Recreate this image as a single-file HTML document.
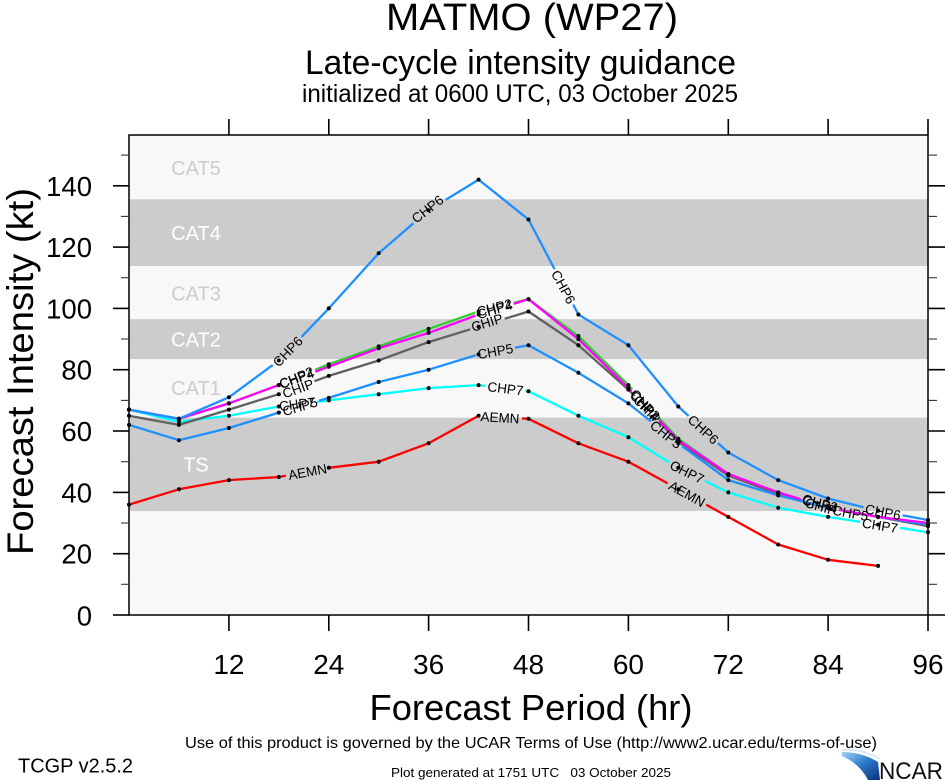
<!DOCTYPE html>
<html><head><meta charset="utf-8"><style>
html,body{margin:0;padding:0;background:#fff;}
svg{display:block;font-family:"Liberation Sans",Arial,sans-serif;}
.lbl{font-size:13.5px;fill:#000;}
</style></head><body>
<svg width="945" height="780" viewBox="0 0 945 780" xmlns="http://www.w3.org/2000/svg">
<defs>
<marker id="d" markerWidth="6" markerHeight="6" refX="3" refY="3" markerUnits="userSpaceOnUse"><circle cx="3" cy="3" r="2" fill="#000"/></marker>
<mask id="m6" maskUnits="userSpaceOnUse" x="0" y="0" width="945" height="780">
<rect width="945" height="780" fill="#fff"/>
<g fill="#000">
<rect x="-20" y="-6" width="40" height="12" transform="translate(287.7,351.5) rotate(-46)"/>
<rect x="-20" y="-6" width="40" height="12" transform="translate(427.5,209) rotate(-38)"/>
<rect x="-20" y="-6" width="40" height="12" transform="translate(563.5,287) rotate(62)"/>
<rect x="-20" y="-6" width="40" height="12" transform="translate(703.3,429.5) rotate(42.6)"/>
<rect x="-20" y="-6" width="40" height="12" transform="translate(883,512) rotate(11)"/>
</g></mask>
<mask id="m4" maskUnits="userSpaceOnUse" x="0" y="0" width="945" height="780">
<rect width="945" height="780" fill="#fff"/>
<g fill="#000">
<rect x="-20" y="-6" width="40" height="12" transform="translate(296.5,378.5) rotate(-20)"/>
<rect x="-20" y="-6" width="40" height="12" transform="translate(494.5,309.5) rotate(-17)"/>
<rect x="-20" y="-6" width="40" height="12" transform="translate(645,406) rotate(46)"/>
<rect x="-20" y="-6" width="40" height="12" transform="translate(820,504) rotate(15)"/>
</g></mask>
<mask id="m2" maskUnits="userSpaceOnUse" x="0" y="0" width="945" height="780">
<rect width="945" height="780" fill="#fff"/>
<g fill="#000">
<rect x="-20" y="-6" width="40" height="12" transform="translate(296.5,377.5) rotate(-22.7)"/>
<rect x="-20" y="-6" width="40" height="12" transform="translate(494.5,307.5) rotate(-14)"/>
<rect x="-20" y="-6" width="40" height="12" transform="translate(645,404.5) rotate(47)"/>
<rect x="-20" y="-6" width="40" height="12" transform="translate(820,503) rotate(15)"/>
</g></mask>
<mask id="mi" maskUnits="userSpaceOnUse" x="0" y="0" width="945" height="780">
<rect width="945" height="780" fill="#fff"/>
<g fill="#000">
<rect x="-18" y="-6" width="36" height="12" transform="translate(298,388.5) rotate(-20)"/>
<rect x="-18" y="-6" width="36" height="12" transform="translate(487,322.5) rotate(-17)"/>
<rect x="-18" y="-6" width="36" height="12" transform="translate(647,409) rotate(46)"/>
<rect x="-18" y="-6" width="36" height="12" transform="translate(821,506.5) rotate(16)"/>
</g></mask>
<mask id="m5" maskUnits="userSpaceOnUse" x="0" y="0" width="945" height="780">
<rect width="945" height="780" fill="#fff"/>
<g fill="#000">
<rect x="-20" y="-6" width="40" height="12" transform="translate(300,406.5) rotate(-16.4)"/>
<rect x="-20" y="-6" width="40" height="12" transform="translate(495.3,351.3) rotate(-10.4)"/>
<rect x="-20" y="-6" width="40" height="12" transform="translate(666,434.5) rotate(39)"/>
<rect x="-20" y="-6" width="40" height="12" transform="translate(850.5,513) rotate(10.5)"/>
</g></mask>
<mask id="m7" maskUnits="userSpaceOnUse" x="0" y="0" width="945" height="780">
<rect width="945" height="780" fill="#fff"/>
<g fill="#000">
<rect x="-20" y="-6" width="40" height="12" transform="translate(297,404) rotate(-7)"/>
<rect x="-20" y="-6" width="40" height="12" transform="translate(505.5,388.5) rotate(7)"/>
<rect x="-20" y="-6" width="40" height="12" transform="translate(687,472) rotate(26)"/>
<rect x="-20" y="-6" width="40" height="12" transform="translate(880,525.5) rotate(9)"/>
</g></mask>
<mask id="ma" maskUnits="userSpaceOnUse" x="0" y="0" width="945" height="780">
<rect width="945" height="780" fill="#fff"/>
<g fill="#000">
<rect x="-22" y="-6" width="44" height="12" transform="translate(307.5,471.8) rotate(-10.4)"/>
<rect x="-22" y="-6" width="44" height="12" transform="translate(500,417.5) rotate(3.6)"/>
<rect x="-22" y="-6" width="44" height="12" transform="translate(687,493.8) rotate(29)"/>
</g></mask>
<linearGradient id="ng" x1="0" y1="0" x2="1" y2="1">
<stop offset="0" stop-color="#9fd3f5"/><stop offset="0.5" stop-color="#2a78c8"/><stop offset="1" stop-color="#0b2f7a"/>
</linearGradient>
</defs>

<rect width="945" height="780" fill="#fff"/>

<!-- Titles -->
<text x="532" y="30" font-size="38" text-anchor="middle" textLength="292" lengthAdjust="spacingAndGlyphs">MATMO (WP27)</text>
<text x="520.5" y="74" font-size="34" text-anchor="middle" textLength="431" lengthAdjust="spacingAndGlyphs">Late-cycle intensity guidance</text>
<text x="520" y="102" font-size="25" text-anchor="middle" textLength="436" lengthAdjust="spacingAndGlyphs">initialized at 0600 UTC, 03 October 2025</text>

<!-- Plot background and bands -->
<rect x="129" y="135" width="799" height="480" fill="#f8f8f8"/>
<rect x="129" y="199.3" width="799" height="66.7" fill="#cccccc"/>
<rect x="129" y="319.2" width="799" height="39.8" fill="#cccccc"/>
<rect x="129" y="417.7" width="799" height="93.3" fill="#cccccc"/>

<g font-size="20" text-anchor="middle">
<text x="196" y="175" fill="#cccccc">CAT5</text>
<text x="196" y="240" fill="#ffffff">CAT4</text>
<text x="196" y="300.7" fill="#cccccc">CAT3</text>
<text x="196" y="346.7" fill="#ffffff">CAT2</text>
<text x="196" y="395" fill="#cccccc">CAT1</text>
<text x="196" y="471.7" fill="#ffffff">TS</text>
</g>

<!-- Series lines -->
<g fill="none" stroke-width="2.3" stroke-linejoin="round">
<polyline mask="url(#ma)" stroke="#ff0000" points="129,504.6 178.9,489.3 228.9,480.1 278.8,477 328.8,467.8 378.7,461.7 428.6,443.3 478.6,415.7 528.5,418.8 578.4,443.3 628.4,461.7 678.3,489.3 728.3,516.9 778.2,544.5 828.1,559.8 878.1,565.9"/>
<polyline mask="url(#m7)" stroke="#00ffff" points="129,409.6 178.9,421.8 228.9,415.7 278.8,406.5 328.8,400.4 378.7,394.2 428.6,388.1 478.6,385.1 528.5,391.2 578.4,415.7 628.4,437.2 678.3,467.8 728.3,492.4 778.2,507.7 828.1,516.9 878.1,524.6 928,532.2"/>
<polyline mask="url(#mi)" stroke="#606060" points="129,415.7 178.9,424.9 228.9,409.6 278.8,394.2 328.8,375.9 378.7,360.5 428.6,342.1 478.6,326.8 528.5,311.5 578.4,345.2 628.4,389.6 678.3,441.8 728.3,475.5 778.2,493.9 828.1,507.7 878.1,516.9 928,526.1"/>
<polyline mask="url(#m5)" stroke="#1e90ff" points="129,424.9 178.9,440.2 228.9,428 278.8,412.6 328.8,397.9 378.7,382 428.6,369.7 478.6,354.4 528.5,345.2 578.4,372.8 628.4,403.4 678.3,443.3 728.3,480.1 778.2,495.4 828.1,507.7 878.1,516.9 928,524.6"/>
<polyline mask="url(#m2)" stroke="#32cd32" points="129,409.6 178.9,418.8 228.9,403.4 278.8,385.1 328.8,364.2 378.7,346.4 428.6,328.9 478.6,311.5 528.5,299.2 578.4,336 628.4,385.1 678.3,438.7 728.3,474 778.2,492.4 828.1,507.7 878.1,516.9 928,523"/>
<polyline mask="url(#m4)" stroke="#ff00ff" points="129,409.6 178.9,418.8 228.9,403.4 278.8,385.1 328.8,366.7 378.7,348.3 428.6,332.9 478.6,314.5 528.5,299.2 578.4,339.1 628.4,388.1 678.3,440.2 728.3,474 778.2,492.4 828.1,507.7 878.1,516.9 928,523"/>
<polyline mask="url(#m6)" stroke="#1e90ff" points="129,409.6 178.9,418.8 228.9,397.3 278.8,360.5 328.8,308.4 378.7,253.2 428.6,210.3 478.6,179.6 528.5,219.5 578.4,314.5 628.4,345.2 678.3,406.5 728.3,452.5 778.2,480.1 828.1,498.5 878.1,510.8 928,520"/>
</g>

<!-- Dots -->
<g fill="none" stroke="none" marker-start="url(#d)" marker-mid="url(#d)" marker-end="url(#d)">
<polyline points="129,504.6 178.9,489.3 228.9,480.1 278.8,477 328.8,467.8 378.7,461.7 428.6,443.3 478.6,415.7 528.5,418.8 578.4,443.3 628.4,461.7 678.3,489.3 728.3,516.9 778.2,544.5 828.1,559.8 878.1,565.9"/>
<polyline points="129,409.6 178.9,421.8 228.9,415.7 278.8,406.5 328.8,400.4 378.7,394.2 428.6,388.1 478.6,385.1 528.5,391.2 578.4,415.7 628.4,437.2 678.3,467.8 728.3,492.4 778.2,507.7 828.1,516.9 878.1,524.6 928,532.2"/>
<polyline points="129,415.7 178.9,424.9 228.9,409.6 278.8,394.2 328.8,375.9 378.7,360.5 428.6,342.1 478.6,326.8 528.5,311.5 578.4,345.2 628.4,389.6 678.3,441.8 728.3,475.5 778.2,493.9 828.1,507.7 878.1,516.9 928,526.1"/>
<polyline points="129,424.9 178.9,440.2 228.9,428 278.8,412.6 328.8,397.9 378.7,382 428.6,369.7 478.6,354.4 528.5,345.2 578.4,372.8 628.4,403.4 678.3,443.3 728.3,480.1 778.2,495.4 828.1,507.7 878.1,516.9 928,524.6"/>
<polyline points="129,409.6 178.9,418.8 228.9,403.4 278.8,385.1 328.8,364.2 378.7,346.4 428.6,328.9 478.6,311.5 528.5,299.2 578.4,336 628.4,385.1 678.3,438.7 728.3,474 778.2,492.4 828.1,507.7 878.1,516.9 928,523"/>
<polyline points="129,409.6 178.9,418.8 228.9,403.4 278.8,385.1 328.8,366.7 378.7,348.3 428.6,332.9 478.6,314.5 528.5,299.2 578.4,339.1 628.4,388.1 678.3,440.2 728.3,474 778.2,492.4 828.1,507.7 878.1,516.9 928,523"/>
<polyline points="129,409.6 178.9,418.8 228.9,397.3 278.8,360.5 328.8,308.4 378.7,253.2 428.6,210.3 478.6,179.6 528.5,219.5 578.4,314.5 628.4,345.2 678.3,406.5 728.3,452.5 778.2,480.1 828.1,498.5 878.1,510.8 928,520"/>
</g>

<!-- Line labels -->
<g class="lbl" text-anchor="middle">
<text transform="translate(287.7,351.5) rotate(-46)" y="4.8">CHP6</text>
<text transform="translate(427.5,209) rotate(-38)" y="4.8">CHP6</text>
<text transform="translate(563.5,287) rotate(62)" y="4.8">CHP6</text>
<text transform="translate(703.3,429.5) rotate(42.6)" y="4.8">CHP6</text>
<text transform="translate(883,512) rotate(11)" y="4.8">CHP6</text>

<text transform="translate(296.5,377.5) rotate(-22.7)" y="4.8">CHP2</text>
<text transform="translate(494.5,307.5) rotate(-14)" y="4.8">CHP2</text>
<text transform="translate(645,404.5) rotate(47)" y="4.8">CHP2</text>
<text transform="translate(820,503) rotate(15)" y="4.8">CHP2</text>

<text transform="translate(296.5,378.5) rotate(-20)" y="4.8">CHP4</text>
<text transform="translate(494.5,309.5) rotate(-17)" y="4.8">CHP4</text>
<text transform="translate(645,406) rotate(46)" y="4.8">CHP4</text>
<text transform="translate(820,504) rotate(15)" y="4.8">CHP4</text>

<text transform="translate(298,388.5) rotate(-20)" y="4.8">CHIP</text>
<text transform="translate(487,322.5) rotate(-17)" y="4.8">CHIP</text>
<text transform="translate(647,409) rotate(46)" y="4.8">CHIP</text>
<text transform="translate(821,506.5) rotate(16)" y="4.8">CHIP</text>

<text transform="translate(300,406.5) rotate(-16.4)" y="4.8">CHP5</text>
<text transform="translate(495.3,351.3) rotate(-10.4)" y="4.8">CHP5</text>
<text transform="translate(666,434.5) rotate(39)" y="4.8">CHP5</text>
<text transform="translate(850.5,513) rotate(10.5)" y="4.8">CHP5</text>

<text transform="translate(297,404) rotate(-7)" y="4.8">CHP7</text>
<text transform="translate(505.5,388.5) rotate(7)" y="4.8">CHP7</text>
<text transform="translate(687,472) rotate(26)" y="4.8">CHP7</text>
<text transform="translate(880,525.5) rotate(9)" y="4.8">CHP7</text>

<text transform="translate(307.5,471.8) rotate(-10.4)" y="4.8">AEMN</text>
<text transform="translate(500,417.5) rotate(3.6)" y="4.8">AEMN</text>
<text transform="translate(687,493.8) rotate(29)" y="4.8">AEMN</text>
</g>

<!-- Frame -->
<rect x="129" y="135" width="799" height="480" fill="none" stroke="#000" stroke-width="1.5"/>

<!-- Y ticks (left & right) -->
<g stroke="#000" stroke-width="1.6">
<line x1="113" y1="615" x2="129" y2="615"/><line x1="113" y1="553.7" x2="129" y2="553.7"/>
<line x1="113" y1="492.4" x2="129" y2="492.4"/><line x1="113" y1="431" x2="129" y2="431"/>
<line x1="113" y1="369.7" x2="129" y2="369.7"/><line x1="113" y1="308.4" x2="129" y2="308.4"/>
<line x1="113" y1="247.1" x2="129" y2="247.1"/><line x1="113" y1="185.8" x2="129" y2="185.8"/>
<line x1="928" y1="615" x2="945" y2="615"/><line x1="928" y1="553.7" x2="945" y2="553.7"/>
<line x1="928" y1="492.4" x2="945" y2="492.4"/><line x1="928" y1="431" x2="945" y2="431"/>
<line x1="928" y1="369.7" x2="945" y2="369.7"/><line x1="928" y1="308.4" x2="945" y2="308.4"/>
<line x1="928" y1="247.1" x2="945" y2="247.1"/><line x1="928" y1="185.8" x2="945" y2="185.8"/>
</g>
<g stroke="#333" stroke-width="1.1">
<line x1="121" y1="584.3" x2="129" y2="584.3"/><line x1="121" y1="523" x2="129" y2="523"/>
<line x1="121" y1="461.7" x2="129" y2="461.7"/><line x1="121" y1="400.4" x2="129" y2="400.4"/>
<line x1="121" y1="339" x2="129" y2="339"/><line x1="121" y1="277.7" x2="129" y2="277.7"/>
<line x1="121" y1="216.4" x2="129" y2="216.4"/><line x1="121" y1="155.1" x2="129" y2="155.1"/>
<line x1="928" y1="584.3" x2="937" y2="584.3"/><line x1="928" y1="523" x2="937" y2="523"/>
<line x1="928" y1="461.7" x2="937" y2="461.7"/><line x1="928" y1="400.4" x2="937" y2="400.4"/>
<line x1="928" y1="339" x2="937" y2="339"/><line x1="928" y1="277.7" x2="937" y2="277.7"/>
<line x1="928" y1="216.4" x2="937" y2="216.4"/><line x1="928" y1="155.1" x2="937" y2="155.1"/>
</g>

<!-- X ticks (bottom & top) -->
<g stroke="#000" stroke-width="1.6">
<line x1="228.9" y1="615" x2="228.9" y2="631"/><line x1="328.8" y1="615" x2="328.8" y2="631"/>
<line x1="428.6" y1="615" x2="428.6" y2="631"/><line x1="528.5" y1="615" x2="528.5" y2="631"/>
<line x1="628.4" y1="615" x2="628.4" y2="631"/><line x1="728.3" y1="615" x2="728.3" y2="631"/>
<line x1="828.1" y1="615" x2="828.1" y2="631"/><line x1="928" y1="615" x2="928" y2="631"/>
<line x1="228.9" y1="135" x2="228.9" y2="119"/><line x1="328.8" y1="135" x2="328.8" y2="119"/>
<line x1="428.6" y1="135" x2="428.6" y2="119"/><line x1="528.5" y1="135" x2="528.5" y2="119"/>
<line x1="628.4" y1="135" x2="628.4" y2="119"/><line x1="728.3" y1="135" x2="728.3" y2="119"/>
<line x1="828.1" y1="135" x2="828.1" y2="119"/><line x1="928" y1="135" x2="928" y2="119"/>
</g>

<!-- Y tick labels -->
<g font-size="27.5" text-anchor="end">
<text x="92" y="625.5">0</text>
<text x="92" y="563.7">20</text>
<text x="92" y="502.4">40</text>
<text x="92" y="441">60</text>
<text x="92" y="379.7">80</text>
<text x="92" y="318.4">100</text>
<text x="92" y="257.1">120</text>
<text x="92" y="195.8">140</text>
</g>

<!-- X tick labels -->
<g font-size="28" text-anchor="middle">
<text x="228.9" y="674">12</text>
<text x="328.8" y="674">24</text>
<text x="428.6" y="674">36</text>
<text x="528.5" y="674">48</text>
<text x="628.4" y="674">60</text>
<text x="728.3" y="674">72</text>
<text x="828.1" y="674">84</text>
<text x="928" y="674">96</text>
</g>

<!-- Axis titles -->
<text transform="translate(33,371.5) rotate(-90)" font-size="37" text-anchor="middle" textLength="367" lengthAdjust="spacingAndGlyphs">Forecast Intensity (kt)</text>
<text x="531" y="720" font-size="36" text-anchor="middle" textLength="323" lengthAdjust="spacingAndGlyphs">Forecast Period (hr)</text>

<!-- Footer -->
<text x="531" y="748" font-size="16" text-anchor="middle" textLength="692" lengthAdjust="spacingAndGlyphs">Use of this product is governed by the UCAR Terms of Use (http://www2.ucar.edu/terms-of-use)</text>
<text x="18" y="772.5" font-size="20" textLength="115" lengthAdjust="spacingAndGlyphs">TCGP v2.5.2</text>
<text x="531" y="777" font-size="13" text-anchor="middle" textLength="280" lengthAdjust="spacingAndGlyphs">Plot generated at 1751 UTC &#160;&#160;03 October 2025</text>

<!-- NCAR logo -->
<path d="M842,752 Q862,752 878,762 L880,780 L868,780 Q860,764 842,756 Z" fill="url(#ng)"/>
<path d="M842,750 Q864,749 880,759" fill="none" stroke="#cfe6f7" stroke-width="1.5"/>
<text x="879" y="779" font-size="24" textLength="64" lengthAdjust="spacingAndGlyphs" fill="#111">NCAR</text>
</svg>
</body></html>
